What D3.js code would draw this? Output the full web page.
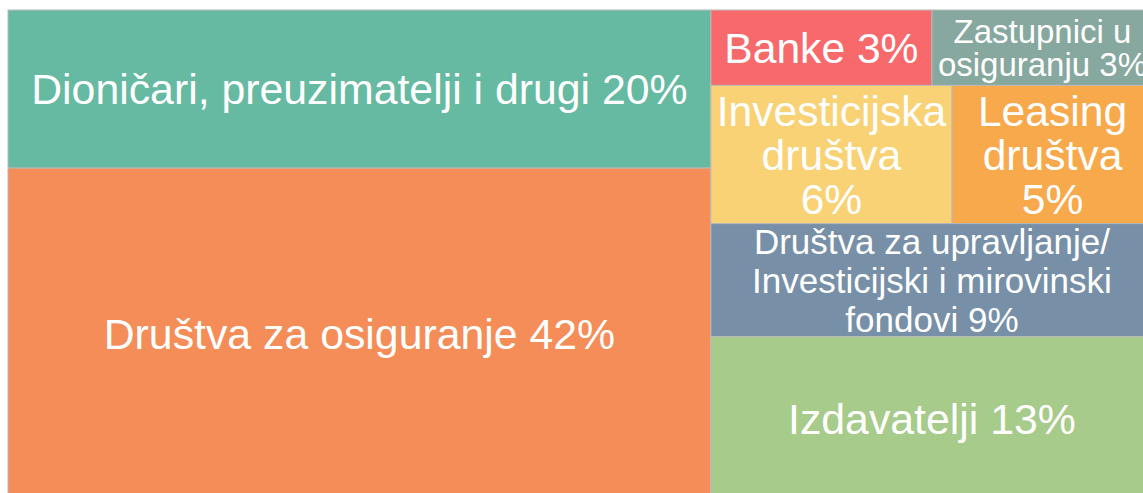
<!DOCTYPE html>
<html lang="hr">
<head>
<meta charset="utf-8">
<script src="https://cdn.jsdelivr.net/npm/d3@7"></script>
<style>
  html, body { margin: 0; padding: 0; background: #ffffff; overflow: hidden; }
  svg { display: block; }
  text { font-family: "Liberation Sans", Arial, sans-serif; fill: #ffffff; }
</style>
</head>
<body>
<svg id="chart" width="1143" height="493"></svg>
<script>
// Shares of reporting entities (%)
const categories = [
  "Dioničari, preuzimatelji i drugi",
  "Društva za osiguranje",
  "Banke",
  "Zastupnici u osiguranju",
  "Investicijska društva",
  "Leasing društva",
  "Društva za upravljanje/ Investicijski i mirovinski fondovi",
  "Izdavatelji"
];
const shares = [20, 42, 3, 3, 6, 5, 9, 13];

// How each label wraps (the percentage is appended to the last line)
const labelLines = [
  ["Dioničari, preuzimatelji i drugi"],
  ["Društva za osiguranje"],
  ["Banke"],
  ["Zastupnici u", "osiguranju"],
  ["Investicijska", "društva", ""],
  ["Leasing", "društva", ""],
  ["Društva za upravljanje/", "Investicijski i mirovinski", "fondovi"],
  ["Izdavatelji"]
];

// Tile grouping: two columns; the right one holds two paired rows and two full-width cells
const layoutGroups = [
  [0, 1],
  [[2, 3], [4, 5], 6, 7]
];

const colors = ["#66baa2", "#f48d57", "#f8696b", "#86a89e", "#f9d275", "#f7a94b", "#7890a7", "#a7cb8a"];
const fontSizes = [42.8, 42.8, 42.6, 33, 42.6, 42.6, 35, 42.8];
const lineHeights = [44, 44, 44, 33, 44, 44, 39, 44];

// Build the hierarchy from the index groups
function toNode(g) {
  if (Array.isArray(g)) return { children: g.map(toNode) };
  return { index: g, name: categories[g], value: shares[g] };
}
const root = d3.hierarchy({ children: layoutGroups.map(toNode) })
  .sum(d => d.value || 0);

const x0 = 8, y0 = 10, x1 = 1153, y1 = 500;
d3.treemap()
  .tile(d3.treemapSliceDice)
  .size([x1 - x0, y1 - y0])
  .paddingInner(0)
  .round(false)(root);

const svg = d3.select("#chart");
const g = svg.append("g").attr("transform", `translate(${x0},${y0})`);

const leaves = root.leaves();

const cell = g.selectAll("g.cell")
  .data(leaves)
  .join("g")
  .attr("class", "cell");

cell.append("rect")
  .attr("x", d => d.x0)
  .attr("y", d => d.y0)
  .attr("width", d => d.x1 - d.x0)
  .attr("height", d => d.y1 - d.y0)
  .attr("fill", d => colors[d.data.index])
  .attr("stroke", "#b9b9b9")
  .attr("stroke-width", 1);

cell.each(function(d) {
  const i = d.data.index;
  const pct = shares[i] + "%";
  const lines = labelLines[i].slice();
  const last = lines.length - 1;
  lines[last] = lines[last] ? lines[last] + " " + pct : pct;

  const fs = fontSizes[i];
  const lh = lineHeights[i];
  const cap = fs * 0.716;
  const cx = (d.x0 + d.x1) / 2;
  const cy = (d.y0 + d.y1) / 2;
  const blockH = cap + (lines.length - 1) * lh;
  const firstBase = cy - blockH / 2 + cap;

  const t = d3.select(this).append("text")
    .attr("text-anchor", "middle")
    .style("font-size", fs + "px");
  lines.forEach((ln, k) => {
    t.append("tspan")
      .attr("x", cx)
      .attr("y", firstBase + k * lh)
      .text(ln);
  });
});
</script>
</body>
</html>
